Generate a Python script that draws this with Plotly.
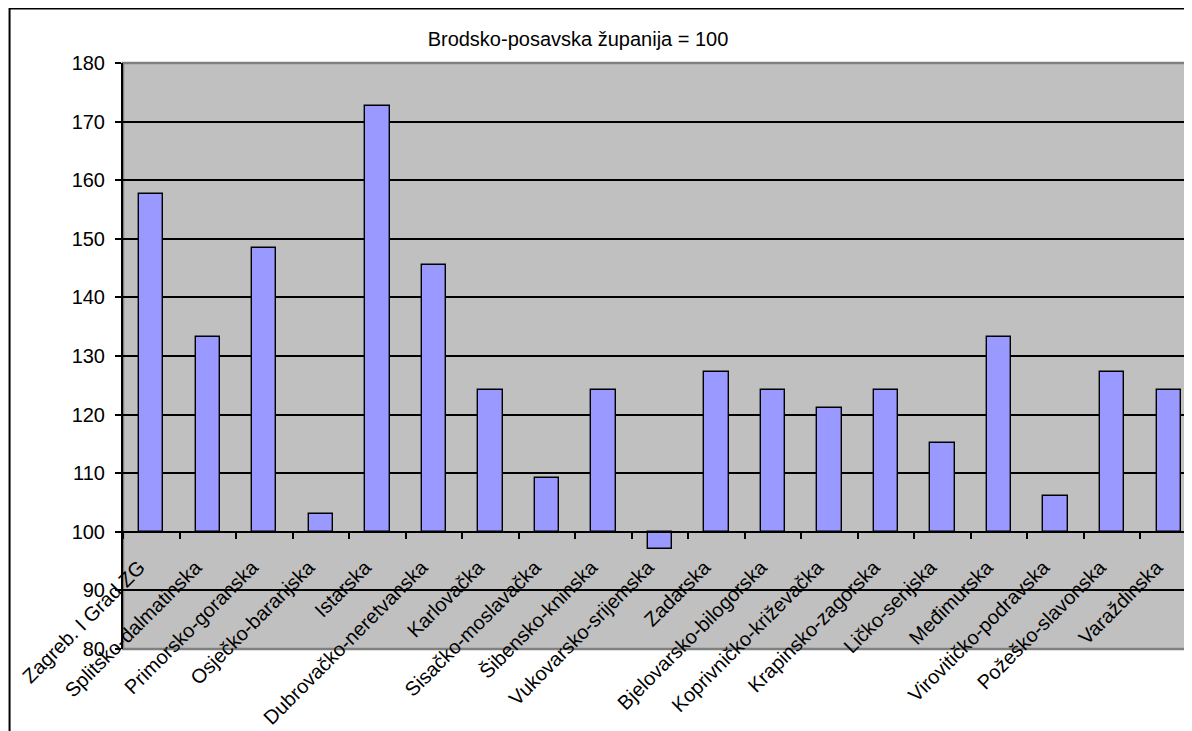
import plotly.graph_objects as go

categories = ["Zagreb. I Grad ZG", "Splitsko-dalmatinska", "Primorsko-goranska",
              "Osječko-baranjska", "Istarska", "Dubrovačko-neretvanska", "Karlovačka",
              "Sisačko-moslavačka", "Šibensko-kninska", "Vukovarsko-srijemska", "Zadarska",
              "Bjelovarsko-bilogorska", "Koprivničko-križevačka", "Krapinsko-zagorska",
              "Ličko-senjska", "Međimurska", "Virovitičko-podravska", "Požeško-slavonska",
              "Varaždinska"]
values = [157.6, 133.3, 148.5, 103.0, 172.7, 145.5, 124.2, 109.1, 124.2, 97.0, 127.3,
          124.2, 121.2, 124.2, 115.2, 133.3, 106.1, 127.3, 124.2]
base_value = 100
title_text = "Brodsko-posavska županija = 100"
y_ticks = [80, 90, 100, 110, 120, 130, 140, 150, 160, 170, 180]

# page body has an 8px margin; compensate so the picture lines up
OFF = 8
W, H = 1192 - OFF, 731 - OFF
ml, mt, mb, mr = 122.5 - OFF, 63 - OFF, 82, 0
pw = W - ml - mr
ph = H - mt - mb
cat_w = 56.55

font = "Liberation Sans, Arial, sans-serif"
fs = 20

fig = go.Figure()
fig.add_trace(go.Bar(
    x=categories,
    y=[v - base_value for v in values],
    base=base_value,
    width=0.43,
    marker=dict(color="#9999FF", line=dict(color="black", width=1.4)),
    hoverinfo="skip",
))

def px_x(p):
    return (p - ml) / pw

def px_y(p):
    return (H - mb - p) / ph

shapes = [
    # outer chart border
    dict(type="rect", xref="paper", yref="paper",
         x0=px_x(1), x1=1.2, y0=-0.3, y1=px_y(0.5),
         line=dict(color="black", width=2), fillcolor="rgba(0,0,0,0)", layer="above"),
    # plot area border (gray)
    dict(type="rect", xref="paper", yref="paper",
         x0=0, x1=1.1, y0=0, y1=1,
         line=dict(color="#808080", width=2.5), fillcolor="rgba(0,0,0,0)", layer="below"),
]

fig.update_layout(
    width=W, height=H,
    margin=dict(l=ml, r=mr, t=mt, b=mb, pad=0),
    paper_bgcolor="white",
    plot_bgcolor="#C0C0C0",
    showlegend=False,
    bargap=0,
    font=dict(family=font, size=fs, color="black"),
    title=dict(text=title_text, x=(578 - OFF) / W, xanchor="center",
               y=1 - (39 - OFF) / H, yanchor="middle",
               font=dict(family=font, size=fs, color="black")),
    shapes=shapes,
    xaxis=dict(
        type="category",
        range=[-0.5, -0.5 + pw / cat_w],
        anchor="free", position=0.2,
        showline=True, linecolor="black", linewidth=2,
        ticks="outside", ticklen=6, tickwidth=1.5, tickcolor="black",
        tickson="boundaries",
        tickangle=-45,
        ticklabelshift=-12,
        ticklabelstandoff=15,
        tickfont=dict(family=font, size=fs, color="black"),
        showgrid=False,
        zeroline=False,
    ),
    yaxis=dict(
        range=[80, 180],
        tickvals=y_ticks,
        showline=True, linecolor="black", linewidth=2,
        ticks="outside", ticklen=6, tickwidth=1.5, tickcolor="black",
        ticklabelstandoff=6,
        showgrid=True, gridcolor="black", gridwidth=1.8,
        zeroline=False,
        tickfont=dict(family=font, size=fs, color="black"),
    ),
)

fig.write_html("out.html")
